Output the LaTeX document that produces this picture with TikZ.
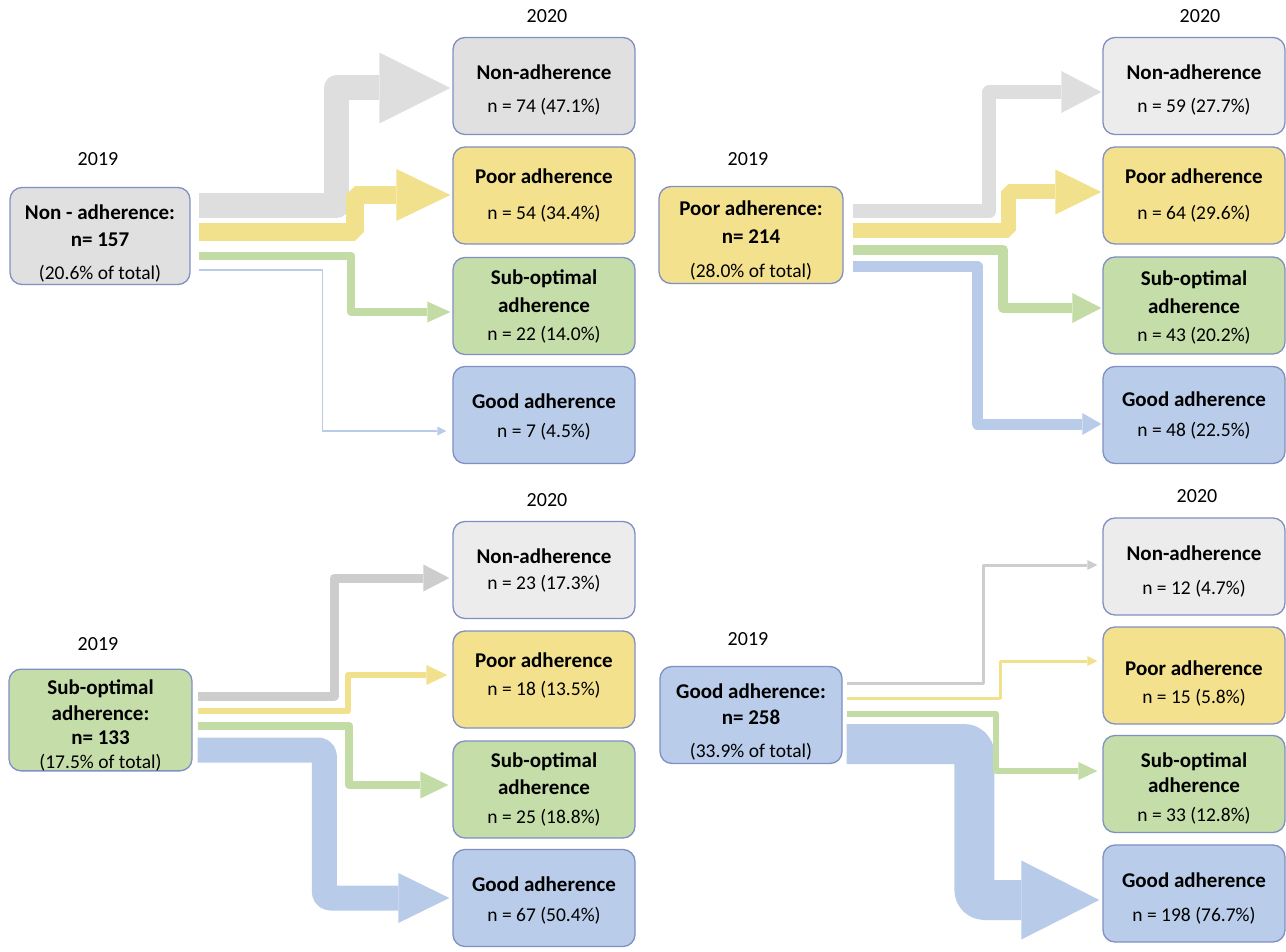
\documentclass[tikz,border=0pt]{standalone}
\usepackage{fontspec}
\setmainfont{Carlito}
\usetikzlibrary{positioning,arrows.meta}
\definecolor{edge}{RGB}{128,143,196}
\definecolor{grayfill}{RGB}{224,224,224}
\definecolor{grayfillb}{RGB}{236,236,236}
\definecolor{yellowfill}{RGB}{243,225,142}
\definecolor{greenfill}{RGB}{197,221,168}
\definecolor{bluefill}{RGB}{185,204,233}
\definecolor{bandgray}{RGB}{222,222,222}
\definecolor{bandgrayb}{RGB}{205,205,205}
\definecolor{bandyellow}{RGB}{242,225,140}
\definecolor{bandgreen}{RGB}{195,220,166}
\definecolor{bandblue}{RGB}{184,203,233}
\newcommand{\hd}{\fontsize{21}{26}\selectfont\bfseries}
\newcommand{\nv}{\fontsize{19.5}{26}\selectfont}
\newcommand{\hi}[1]{\rule{0pt}{#1pt}}
\newcommand{\lo}[1]{\rule[-#1pt]{0pt}{0pt}}
\tikzstyle{Box} = [
draw=edge,
line width=1.3pt,
rounded corners=12pt,
minimum width=182pt,
minimum height=97pt,
inner sep=0pt,
align=center,
font=\nv
]
\tikzstyle{Year} = [font=\fontsize{20}{24}\selectfont, inner sep=0pt]
\tikzstyle{Flow} = [line join=round, line cap=butt]
\tikzset{Head/.style 2 args={-{Triangle[length=#1,width=#2,line width=0pt]}}}

\begin{document}
\begin{tikzpicture}[x=1pt,y=-1pt]
   \useasboundingbox (0,0) rectangle (1286,952);

   \node[Year] (ya) at (98,159) {2019};
   \node[Year] (za) at (547,16) {2020};
   \node[Box, fill=grayfill, minimum width=180pt] (sa) at (100,236) {\hd\hi{29}Non - adherence:\\[1pt] \hd n= 157\\[7pt] (20.6\% of total)};
   \node[Box, fill=grayfill] (ta0) at (544,86) {\hd\hi{22}Non-adherence\\[7pt] n = 74 (47.1\%)};
   \node[Box, fill=yellowfill] (ta1) at (544,195.5) {\hd Poor adherence\\[10pt] n = 54 (34.4\%)};
   \node[Box, fill=greenfill] (ta2) at (544,306) {\hd Sub-optimal\\[2pt] \hd adherence\\[2pt] n = 22 (14.0\%)};
   \node[Box, fill=bluefill] (ta3) at (544,415) {\hd\hi{18}Good adherence\\[3pt] n = 7 (4.5\%)};

   \draw[Flow, draw=bandgray, line width=25pt, Head={71pt}{71pt}] ([shift={(8,-30)}]sa.east) -| ([shift={(-116,2)}]ta0.west) -- ([shift={(-2,2)}]ta0.west);
   \draw[Flow, draw=bandyellow, line width=18pt, line join=bevel, Head={54pt}{52pt}] ([shift={(8,-4)}]sa.east) -| ([shift={(-97,-0.5)}]ta1.west) -- ([shift={(-2,-0.5)}]ta1.west);
   \draw[Flow, draw=bandgreen, line width=8pt, Head={23pt}{21pt}] ([shift={(8,20)}]sa.east) -| ([shift={(-101,6)}]ta2.west) -- ([shift={(-2,6)}]ta2.west);
   \draw[Flow, draw=bandblue, line width=1.5pt, Head={9pt}{9pt}] ([shift={(8,34)}]sa.east) -| ([shift={(-130,16)}]ta3.west) -- ([shift={(-6,16)}]ta3.west);

   \node[Year] (yb) at (748,159) {2019};
   \node[Year] (zb) at (1200,16) {2020};
   \node[Box, fill=yellowfill, minimum width=184pt] (sb) at (751,235) {\hd\hi{25}Poor adherence:\\[2pt] \hd n= 214\\[8pt] (28.0\% of total)};
   \node[Box, fill=grayfillb] (tb0) at (1194,86) {\hd\hi{23}Non-adherence\\[7pt] n = 59 (27.7\%)};
   \node[Box, fill=yellowfill] (tb1) at (1194,195.5) {\hd Poor adherence\\[10pt] n = 64 (29.6\%)};
   \node[Box, fill=greenfill] (tb2) at (1194,305.5) {\hd\hi{18}Sub-optimal\\[2pt] \hd adherence\\[2pt] n = 43 (20.2\%)};
   \node[Box, fill=bluefill] (tb3) at (1194,415) {\hd Good adherence\\[4pt] n = 48 (22.5\%)};

   \draw[Flow, draw=bandgray, line width=14pt, Head={40pt}{42pt}] ([shift={(9,-23.5)}]sb.east) -| ([shift={(-113,6)}]tb0.west) -- ([shift={(-1,6)}]tb0.west);
   \draw[Flow, draw=bandyellow, line width=15pt, line join=bevel, Head={46pt}{45pt}] ([shift={(9,-4)}]sb.east) -| ([shift={(-94,-3.5)}]tb1.west) -- ([shift={(-1,-3.5)}]tb1.west);
   \draw[Flow, draw=bandgreen, line width=10pt, Head={29pt}{30pt}] ([shift={(9,15)}]sb.east) -| ([shift={(-99,2.5)}]tb2.west) -- ([shift={(-1,2.5)}]tb2.west);
   \draw[Flow, draw=bandblue, line width=11pt, Head={19pt}{22pt}] ([shift={(9,32)}]sb.east) -| ([shift={(-125,9)}]tb3.west) -- ([shift={(-1,9)}]tb3.west);

   \node[Year] (yc) at (98,644) {2019};
   \node[Year] (zc) at (547,500) {2020};
   \node[Box, fill=greenfill, minimum width=183pt] (sc) at (100.5,720) {\hd\hi{25}Sub-optimal\\[0pt] \hd adherence:\\[-2pt] \hd n= 133\\[-2pt] (17.5\% of total)};
   \node[Box, fill=grayfillb] (tc0) at (544,570) {\hd Non-adherence\\[0pt] n = 23 (17.3\%)};
   \node[Box, fill=yellowfill] (tc1) at (544,679.5) {\hd Poor adherence\\[2pt] n = 18 (13.5\%)\lo{11}};
   \node[Box, fill=greenfill] (tc2) at (544,789.5) {\hd Sub-optimal\\[1pt] \hd adherence\\[3pt] n = 25 (18.8\%)};
   \node[Box, fill=bluefill] (tc3) at (544,898) {\hd\hi{19}Good adherence\\[4pt] n = 67 (50.4\%)};

   \draw[Flow, draw=bandgrayb, line width=9pt, Head={26pt}{27pt}] ([shift={(5,-24)}]sc.east) -| ([shift={(-118,8)}]tc0.west) -- ([shift={(-3,8)}]tc0.west);
   \draw[Flow, draw=bandyellow, line width=6pt, Head={21pt}{20pt}] ([shift={(5,-9)}]sc.east) -| ([shift={(-104,-4.5)}]tc1.west) -- ([shift={(-5,-4.5)}]tc1.west);
   \draw[Flow, draw=bandgreen, line width=8pt, Head={28pt}{27pt}] ([shift={(5,6)}]sc.east) -| ([shift={(-103,-4.5)}]tc2.west) -- ([shift={(-4,-4.5)}]tc2.west);
   \draw[Flow, draw=bandblue, line width=25pt, rounded corners=6pt, Head={51pt}{50pt}] ([shift={(5,30)}]sc.east) -| ([shift={(-128,0)}]tc3.west) -- ([shift={(-3,0)}]tc3.west);

   \node[Year] (yd) at (748,639) {2019};
   \node[Year] (zd) at (1197,496) {2020};
   \node[Box, fill=bluefill] (sd) at (751,715) {\hd\hi{29}Good adherence:\\[0pt] \hd n= 258\\[7pt] (33.9\% of total)};
   \node[Box, fill=grayfillb] (td0) at (1194,566.5) {\hd\hi{25}Non-adherence\\[8pt] n = 12 (4.7\%)};
   \node[Box, fill=yellowfill] (td1) at (1194,675.5) {\hd\hi{31}Poor adherence\\[2pt] n = 15 (5.8\%)};
   \node[Box, fill=greenfill] (td2) at (1194,784) {\hd\hi{23}Sub-optimal\\[-1pt] \hd adherence\\[3pt] n = 33 (12.8\%)};
   \node[Box, fill=bluefill] (td3) at (1194,893.5) {\hd\hi{24}Good adherence\\[8pt] n = 198 (76.7\%)};

   \draw[Flow, draw=bandgrayb, line width=3pt, Head={10pt}{10pt}] ([shift={(4,-32)}]sd.east) -| ([shift={(-119,-1.5)}]td0.west) -- ([shift={(-5,-1.5)}]td0.west);
   \draw[Flow, draw=bandyellow, line width=3pt, Head={10pt}{10pt}] ([shift={(4,-17)}]sd.east) -| ([shift={(-102,-14.5)}]td1.west) -- ([shift={(-5,-14.5)}]td1.west);
   \draw[Flow, draw=bandblue, line width=40pt, rounded corners=10pt, Head={78pt}{79pt}] ([shift={(4,29)}]sd.east) -| ([shift={(-128,6.5)}]td3.west) -- ([shift={(-3,6.5)}]td3.west);
   \draw[Flow, draw=bandgreen, line width=6pt, Head={19pt}{18pt}] ([shift={(4,-1)}]sd.east) -| ([shift={(-106,-13)}]td2.west) -- ([shift={(-5,-13)}]td2.west);
\end{tikzpicture}
\end{document}
